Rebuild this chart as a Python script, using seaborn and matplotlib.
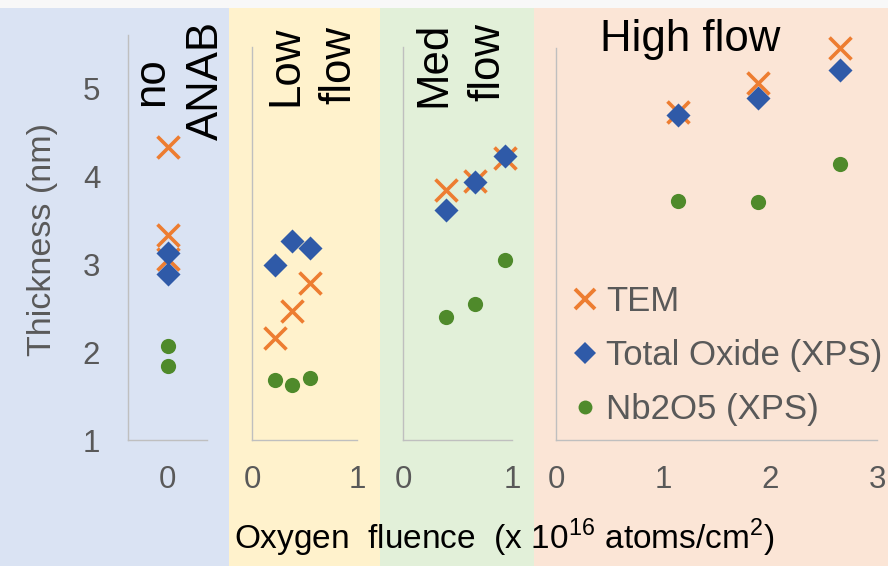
import matplotlib
matplotlib.use("Agg")
import matplotlib.pyplot as plt
from matplotlib.patches import Rectangle
from matplotlib.lines import Line2D
import seaborn as sns
import pandas as pd

sns.set_style("white")
plt.rcParams['font.family'] = ['Liberation Sans', 'DejaVu Sans']

# ---------------- data ----------------
series_names = ["TEM", "Total Oxide (XPS)", "Nb2O5 (XPS)"]
y_ticks = [1, 2, 3, 4, 5]

noanab_x_tem = [0, 0, 0]
noanab_tem = [4.33, 3.33, 3.06]
noanab_x_xps = [0, 0]
noanab_oxide = [3.12, 2.89]
noanab_nb2o5 = [2.07, 1.84]

low_x = [0.22, 0.38, 0.55]
low_tem = [2.16, 2.47, 2.78]
low_oxide = [2.99, 3.26, 3.18]
low_nb2o5 = [1.68, 1.63, 1.71]

med_x = [0.39, 0.66, 0.94]
med_tem = [3.84, 3.94, 4.21]
med_oxide = [3.61, 3.93, 4.23]
med_nb2o5 = [2.40, 2.55, 3.05]

high_x = [1.14, 1.89, 2.65]
high_tem = [4.73, 5.06, 5.45]
high_oxide = [4.69, 4.89, 5.20]
high_nb2o5 = [3.72, 3.70, 4.14]

# ---------------- style ----------------
W, H = 888, 566
C_TEM = "#ed7d31"
C_OX = "#2f5aa8"
C_NB = "#4f8a2b"
AXC = "#bfbfbf"
TXT = "#595959"

fig = plt.figure(figsize=(W / 100, H / 100), dpi=100)
fig.patch.set_facecolor("#f8f8f8")


def fx(px):
    return px / W


def fy(py):
    return 1 - py / H


# background bands
for x0, x1, col in [(0, 229, "#dae3f3"), (229, 380, "#fff2cc"),
                    (380, 534, "#e2f0d9"), (534, 888, "#fbe5d6")]:
    fig.add_artist(Rectangle((fx(x0), 0), fx(x1) - fx(x0), fy(8), transform=fig.transFigure,
                             facecolor=col, edgecolor="none", zorder=-5))


def make_ax(left, right, top, bottom=440):
    ax = fig.add_axes([fx(left), fy(bottom), fx(right) - fx(left), (bottom - top) / H])
    ax.set_facecolor("none")
    for s in ["top", "right"]:
        ax.spines[s].set_visible(False)
    for s in ["left", "bottom"]:
        ax.spines[s].set_color(AXC)
        ax.spines[s].set_linewidth(1.0)
    ax.tick_params(axis="both", direction="in", length=6, width=1, color=AXC,
                   labelsize=22.5, labelcolor=TXT)
    ax.tick_params(axis="y", pad=20)
    ax.tick_params(axis="x", pad=18)
    return ax


def plot_series(ax, xt, tem, xx, ox, nb):
    sns.scatterplot(x=xt, y=tem, ax=ax, marker="x", color=C_TEM, s=250, linewidth=2.6,
                    zorder=3, clip_on=False)
    sns.scatterplot(x=xx, y=ox, ax=ax, marker="D", color=C_OX, s=150, linewidth=0,
                    zorder=4, clip_on=False)
    sns.scatterplot(x=xx, y=nb, ax=ax, marker="o", color=C_NB, s=120, linewidth=0,
                    zorder=5, clip_on=False)
    ax.set_xlabel("")
    ax.set_ylabel("")


# panel 1: no ANAB
ax1 = make_ax(128, 207, 35)
plot_series(ax1, noanab_x_tem, noanab_tem, noanab_x_xps, noanab_oxide, noanab_nb2o5)
ax1.set_xlim(-1, 1)
ax1.set_ylim(1, 1 + (440 - 35) / 88)
ax1.set_xticks([-1, 0, 1])
ax1.set_xticklabels(["", "0", ""])
ax1.set_yticks(y_ticks)
ax1.set_yticklabels([str(v) for v in y_ticks])

# panel 2: low flow
ax2 = make_ax(252, 357, 47)
plot_series(ax2, low_x, low_tem, low_x, low_oxide, low_nb2o5)
ax2.set_xlim(0, 1)
ax2.set_ylim(1, 1 + (440 - 47) / 88)
ax2.set_xticks([0, 0.25, 0.5, 0.75, 1])
ax2.set_xticklabels(["0", "", "", "", "1"])
ax2.set_yticks(y_ticks)
ax2.set_yticklabels([])

# panel 3: med flow
ax3 = make_ax(403, 512, 47)
plot_series(ax3, med_x, med_tem, med_x, med_oxide, med_nb2o5)
ax3.set_xlim(0, 1)
ax3.set_ylim(1, 1 + (440 - 47) / 88)
ax3.set_xticks([0, 0.25, 0.5, 0.75, 1])
ax3.set_xticklabels(["0", "", "", "", "1"])
ax3.set_yticks([])

# panel 4: high flow
ax4 = make_ax(556, 877, 48)
plot_series(ax4, high_x, high_tem, high_x, high_oxide, high_nb2o5)
ax4.set_xlim(0, 3)
ax4.set_ylim(1, 1 + (440 - 48) / 88)
ax4.set_xticks([0, 1, 2, 3])
ax4.set_xticklabels(["0", "1", "2", "3"])
ax4.set_yticks([])
ax4.tick_params(axis="x", length=0, pad=18)

# panel titles
TFS = 31.5
for word, bx, cy in [("no", 163, 82), ("ANAB", 218, 80), ("Low", 297, 66), ("flow", 350, 65),
                     ("Med", 445, 64), ("flow", 499, 62)]:
    fig.text(fx(bx), fy(cy), word, rotation=90, rotation_mode="anchor", ha="center",
             va="baseline", fontsize=TFS, color="black")
fig.text(fx(690), fy(51), "High flow", ha="center", va="baseline", fontsize=TFS, color="black")

# axis labels
fig.text(fx(42), fy(240), "Thickness (nm)", rotation=90, ha="center", va="center",
         fontsize=24.5, color=TXT)
fig.text(fx(504), fy(538), r"Oxygen  fluence  (x 10$^{\mathregular{16}}$ atoms/cm$^{\mathregular{2}}$)",
         ha="center", va="center", fontsize=24, color="black")

# legend
handles = [
    Line2D([], [], ls="", marker="x", color=C_TEM, markersize=15, markeredgewidth=2.8),
    Line2D([], [], ls="", marker="D", color=C_OX, markersize=11.5, markeredgewidth=0),
    Line2D([], [], ls="", marker="o", color=C_NB, markersize=10, markeredgewidth=0),
]
fig.legend(handles, series_names, loc="upper left", bbox_to_anchor=(fx(573), fy(285)),
           frameon=False, fontsize=25, labelcolor=TXT, handlelength=0.7,
           handletextpad=0.25, labelspacing=0.6, borderpad=0, borderaxespad=0)

fig.savefig("out.png", dpi=100, facecolor=fig.get_facecolor())
